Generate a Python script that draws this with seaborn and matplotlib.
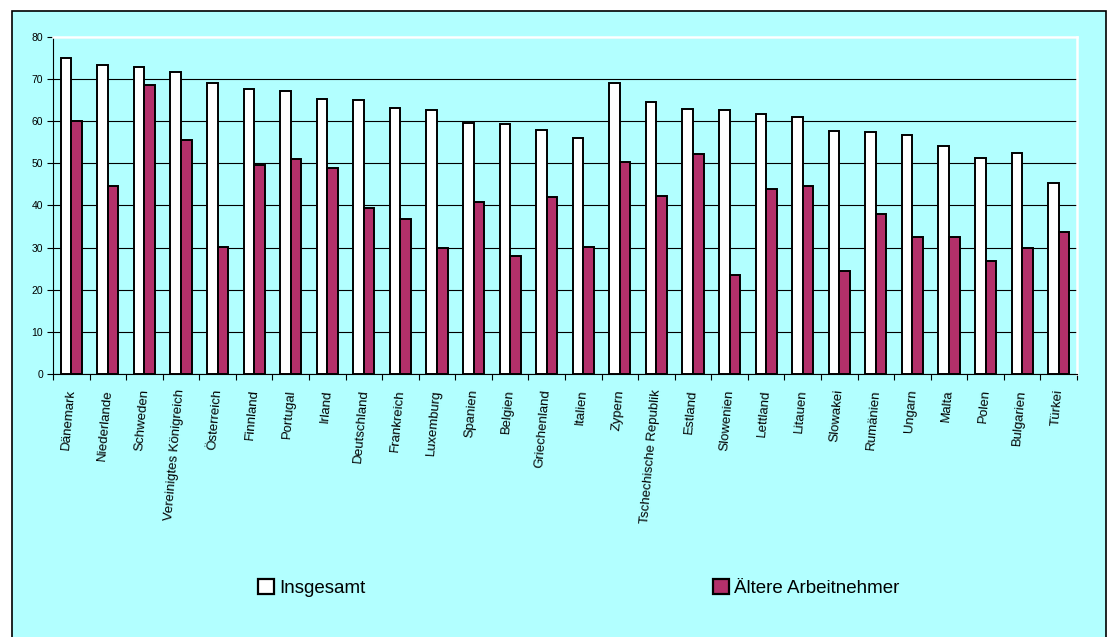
import numpy as np
import pandas as pd
import matplotlib
matplotlib.use("Agg")
import matplotlib.pyplot as plt
from matplotlib.patches import Rectangle
import seaborn as sns

# Beschäftigungsquoten nach Land
countries = [
    "Dänemark", "Niederlande", "Schweden", "Vereinigtes Königreich", "Österreich",
    "Finnland", "Portugal", "Irland", "Deutschland", "Frankreich", "Luxemburg",
    "Spanien", "Belgien", "Griechenland", "Italien", "Zypern",
    "Tschechische Republik", "Estland", "Slowenien", "Lettland", "Litauen",
    "Slowakei", "Rumänien", "Ungarn", "Malta", "Polen", "Bulgarien", "Türkei",
]
insgesamt = [75.0, 73.4, 72.7, 71.6, 69.1, 67.5, 67.1, 65.2, 64.9, 63.1, 62.6,
             59.6, 59.4, 57.8, 56.0, 69.1, 64.6, 62.8, 62.5, 61.7, 61.0,
             57.7, 57.5, 56.8, 54.0, 51.2, 52.4, 45.4]
aeltere = [60.1, 44.7, 68.5, 55.4, 30.2, 49.5, 51.0, 48.9, 39.4, 36.7, 29.9,
           40.7, 27.9, 42.0, 30.1, 50.3, 42.2, 52.1, 23.4, 43.9, 44.6,
           24.5, 38.0, 32.4, 32.4, 26.8, 29.9, 33.7]
series_names = ["Insgesamt", "Ältere Arbeitnehmer"]
y_ticks = [0, 10, 20, 30, 40, 50, 60, 70, 80]

df = pd.DataFrame({
    "Land": countries * 2,
    "Wert": insgesamt + aeltere,
    "Gruppe": [series_names[0]] * len(countries) + [series_names[1]] * len(countries),
})

plt.rcParams["font.family"] = ["Liberation Sans", "DejaVu Sans"]

bg = "#B2FFFF"
fig = plt.figure(figsize=(11.1, 6.37), dpi=100)
fig.patch.set_facecolor("white")

# chart frame, behind the axes
fig.patches.append(Rectangle((11.5 / 1110, -0.05), (1106 - 11.5) / 1110, 1.05 - 11 / 637,
                             transform=fig.transFigure, facecolor=bg,
                             edgecolor="black", linewidth=1.2, zorder=-5))

ax = fig.add_axes([53 / 1110, 1 - 374 / 637, (1077 - 53) / 1110, (374 - 36.7) / 637])
ax.set_facecolor(bg)

sns.barplot(data=df, x="Land", y="Wert", hue="Gruppe", ax=ax,
            palette=["white", "#B3306A"], width=0.58, gap=0,
            edgecolor="black", linewidth=1.4, saturation=1, zorder=3)

ax.set_ylim(0, 80)
ax.set_xlim(-0.5, len(countries) - 0.5)
ax.set_yticks(y_ticks)
ax.set_yticklabels([str(v) for v in y_ticks], fontsize=7.5)
ax.yaxis.grid(True, color="black", linewidth=0.8)
ax.set_axisbelow(True)
ax.set_xlabel("")
ax.set_ylabel("")

ax.set_xticks(range(len(countries)))
ax.set_xticklabels(countries, rotation=85, fontsize=9.5, ha="right",
                   va="center", rotation_mode="anchor")
ax.tick_params(axis="x", length=0, pad=11)
ax.set_xticks(np.arange(-0.5, len(countries)), minor=True)
ax.tick_params(axis="x", which="minor", length=4, width=0.8, direction="out")
ax.tick_params(axis="y", length=4, width=0.8, direction="out", pad=3)

for side in ["top", "right"]:
    ax.spines[side].set_color("white")
    ax.spines[side].set_linewidth(1.8)
for side in ["left", "bottom"]:
    ax.spines[side].set_color("black")
    ax.spines[side].set_linewidth(0.8)

handles, labels = ax.get_legend_handles_labels()
ax.get_legend().remove()
for h in handles:
    h.set_linewidth(1.6)
fig.legend(handles, labels, loc="center", bbox_to_anchor=(0.5216, 0.077),
           ncol=2, frameon=False, fontsize=13.5, borderpad=0,
           handlelength=0.85, handleheight=0.9, handletextpad=0.3,
           columnspacing=18.5)

fig.savefig("out.png", dpi=100, facecolor=fig.get_facecolor())
